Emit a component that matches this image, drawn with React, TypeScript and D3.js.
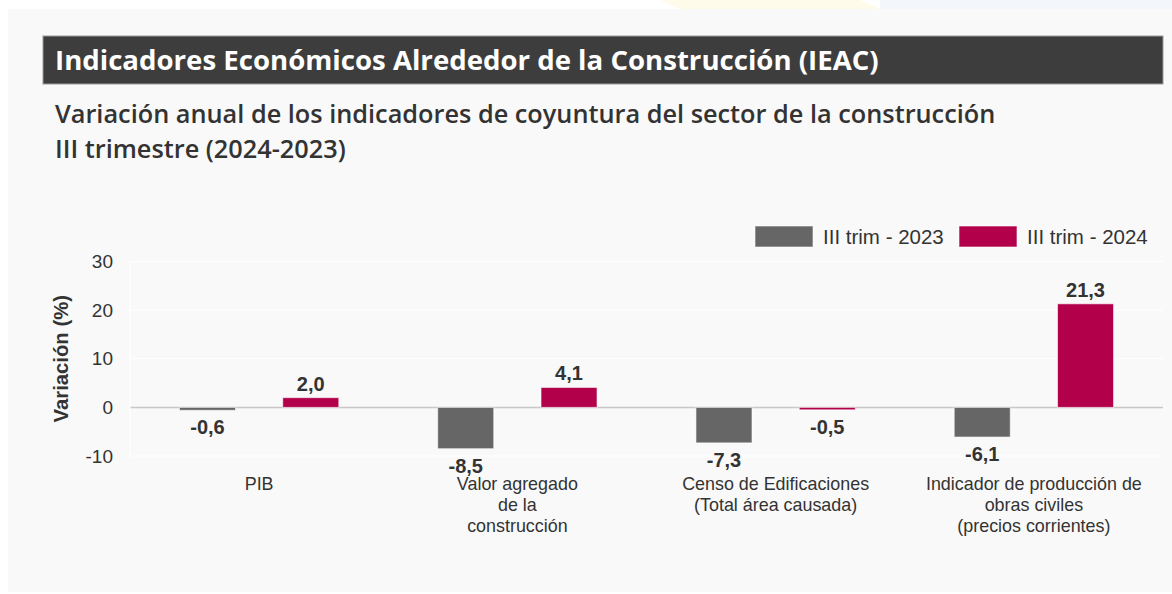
import * as d3 from "d3";
import React from "react";

// categories (multi-line labels) and series
const categories = ["PIB", "Valor agregado", "Censo de Edificaciones", "Indicador de producción"];
const categoryLines = [
  ["PIB"],
  ["Valor agregado", "de la", "construcción"],
  ["Censo de Edificaciones", "(Total área causada)"],
  ["Indicador de producción de", "obras civiles", "(precios corrientes)"],
];
const seriesNames = ["III trim - 2023", "III trim - 2024"];
const values2023 = [-0.6, -8.5, -7.3, -6.1];
const values2024 = [2.0, 4.1, -0.5, 21.3];
const yTicks = [-10, 0, 10, 20, 30];

const COLORS = ["#666666", "#b3004b"];
const W = 1172;
const H = 594;
const margin = { top: 261.5, right: 9, bottom: 138, left: 130 };
const CHART_FONT = "'Liberation Sans', Arial, Helvetica, sans-serif";
const TITLE_FONT = "'Open Sans', 'Noto Sans', sans-serif";

const fmt = (v: number) => v.toFixed(1).replace(".", ",");

export default function App() {
  const x0 = d3
    .scaleBand<string>()
    .domain(categories)
    .range([margin.left, W - margin.right])
    .padding(0);
  const bw = x0.bandwidth();
  // series offsets inside each category band
  const x1 = d3.scalePoint<number>().domain([0, 1]).range([0, bw]).padding(0.75);
  const barW = bw * 0.217;

  const y = d3
    .scaleLinear()
    .domain([-10, 30])
    .range([H - margin.bottom, margin.top]);

  const series = [values2023, values2024];

  return (
    <svg
      width={W}
      height={H}
      style={{ position: "absolute", left: 0, top: 0 }}
      xmlns="http://www.w3.org/2000/svg"
    >
      {/* page background and faint header strip */}
      <rect x={0} y={0} width={W} height={H} fill="#ffffff" />
      <rect x={880} y={0} width={W - 880} height={9} fill="#f3f7fb" />
      <path d="M660,0 L860,0 L880,9 L680,9 Z" fill="#fffbea" />
      <rect x={8} y={9} width={W - 8} height={583} fill="#f9f9f9" />

      {/* title bar */}
      <rect x={43} y={36} width={1120} height={48} fill="#3d3d3d" stroke="#9a9a9a" strokeWidth={1} />
      <text x={55} y={69.5} fill="#ffffff" fontFamily={TITLE_FONT} fontWeight={700} fontSize={27.6}>
        Indicadores Económicos Alrededor de la Construcción (IEAC)
      </text>
      <text fill="#333333" fontFamily={TITLE_FONT} fontWeight={600} fontSize={25.3}>
        <tspan x={55} y={122.5}>
          Variación anual de los indicadores de coyuntura del sector de la construcción
        </tspan>
        <tspan x={55} y={158}>
          III trimestre (2024-2023)
        </tspan>
      </text>

      {/* legend */}
      {seriesNames.map((s, i) => {
        const lx = [755, 959][i];
        return (
          <g key={s}>
            <rect x={lx} y={226} width={58} height={21} fill={COLORS[i]} stroke="#ffffff" strokeOpacity={0.6} />
            <text x={lx + 68} y={244} fontFamily={CHART_FONT} fontSize={20.5} fill="#333333">
              {s}
            </text>
          </g>
        );
      })}

      {/* grid */}
      {yTicks.map((t) => (
        <g key={t}>
          <line
            x1={margin.left}
            x2={W - margin.right}
            y1={y(t)}
            y2={y(t)}
            stroke={t === 0 ? "#c8c8c8" : "#ffffff"}
            strokeWidth={t === 0 ? 1.5 : 1}
          />
          <text
            x={113}
            y={y(t)}
            dy="0.35em"
            textAnchor="end"
            fontFamily={CHART_FONT}
            fontSize={19}
            fill="#333333"
          >
            {t}
          </text>
        </g>
      ))}
      <line x1={margin.left} x2={margin.left} y1={y(30)} y2={y(-10)} stroke="#ffffff" />

      {/* y axis title */}
      <text
        transform={`translate(68,${(y(30) + y(-10)) / 2}) rotate(-90)`}
        textAnchor="middle"
        fontFamily={CHART_FONT}
        fontWeight={700}
        fontSize={20.3}
        fill="#333333"
      >
        Variación (%)
      </text>

      {/* bars and value labels */}
      {categories.map((c, ci) => (
        <g key={c}>
          {series.map((vals, si) => {
            const v = vals[ci];
            const cx = (x0(c) ?? 0) + (x1(si) ?? 0);
            const top = y(Math.max(0, v));
            const bottom = y(Math.min(0, v));
            return (
              <g key={si}>
                <rect
                  x={cx - barW / 2}
                  y={top}
                  width={barW}
                  height={Math.max(1, bottom - top)}
                  fill={COLORS[si]}
                  stroke="#ffffff"
                  strokeOpacity={0.6}
                  strokeWidth={1}
                />
                <text
                  x={cx}
                  y={v >= 0 ? top - 7 : bottom + 24}
                  textAnchor="middle"
                  fontFamily={CHART_FONT}
                  fontWeight={700}
                  fontSize={20}
                  fill="#333333"
                >
                  {fmt(v)}
                </text>
              </g>
            );
          })}
          <text
            textAnchor="middle"
            fontFamily={CHART_FONT}
            fontSize={17.9}
            fill="#333333"
          >
            {categoryLines[ci].map((ln, li) => (
              <tspan key={li} x={(x0(c) ?? 0) + bw / 2} y={490 + li * 21}>
                {ln}
              </tspan>
            ))}
          </text>
        </g>
      ))}
    </svg>
  );
}
